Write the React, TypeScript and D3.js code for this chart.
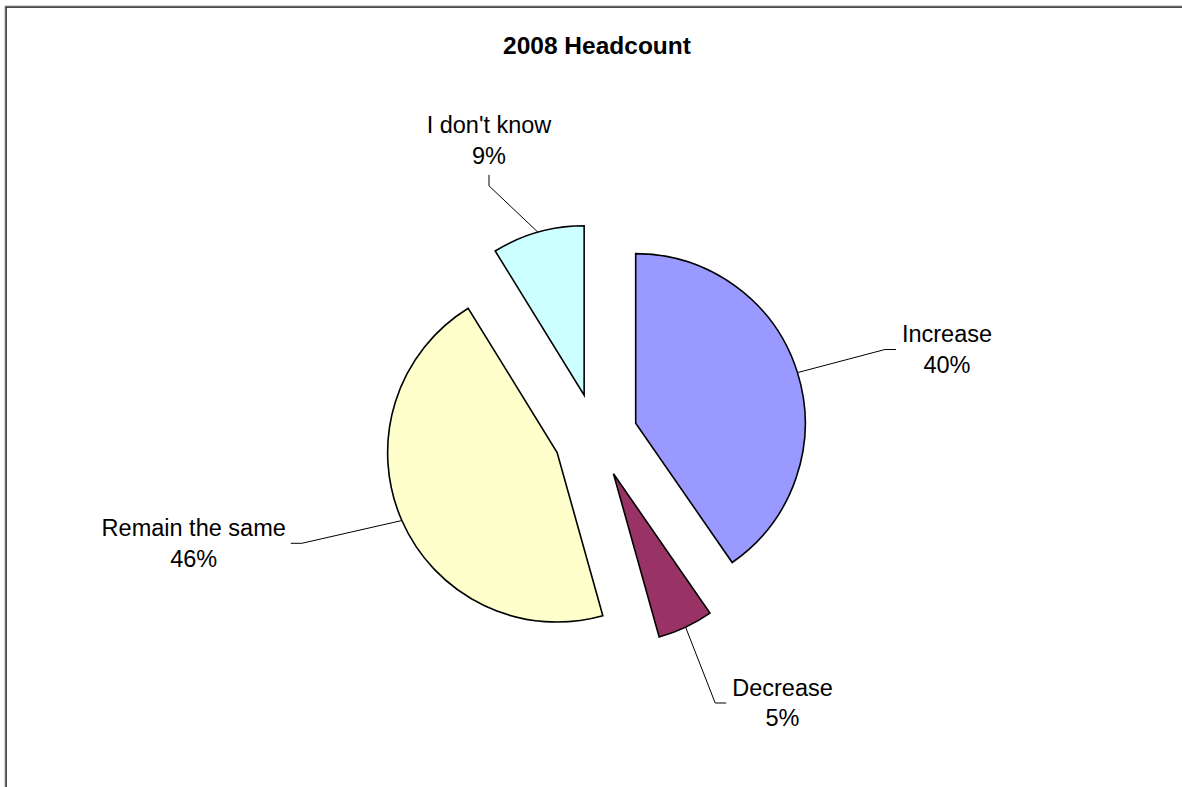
import React, { useEffect, useRef } from "react";
import * as d3 from "d3";

// ---- data ----
const categories: string[] = ["Increase", "Decrease", "Remain the same", "I don't know"];
const values: number[] = [40.4, 5.3, 45.6, 8.8];
const colors: string[] = ["#9999FF", "#993366", "#FFFFCC", "#CCFFFF"];
const title = "2008 Headcount";

// ---- layout ----
const W = 1182;
const H = 787;
const CX = 595.6;
const CY = 435.7;
const R = 169.5;
const EXPLODE = 42;
const labelOffsets: [number, number][] = [
  [351.4, -86.2],
  [186.9, 267.3],
  [-401.9, 107.6],
  [-106.6, -295.2],
];
const labelSides: string[] = ["right", "right", "left", "top"];
const FONT = "'Liberation Sans', Arial, Helvetica, sans-serif";
const LABEL_SIZE = 23.5;

export default function App() {
  const ref = useRef<SVGSVGElement | null>(null);

  useEffect(() => {
    const svg = d3.select(ref.current);
    svg.selectAll("*").remove();

    svg.append("rect").attr("x", 0).attr("y", 0).attr("width", W).attr("height", H).attr("fill", "#fff");

    // chart area border (extends beyond the visible window on right/bottom)
    svg.append("rect")
      .attr("x", 6).attr("y", 7).attr("width", W + 40).attr("height", H + 40)
      .attr("fill", "none").attr("stroke", "#111").attr("stroke-width", 1.5);
    svg.append("rect")
      .attr("x", 5).attr("y", 6).attr("width", W + 40).attr("height", H + 40)
      .attr("fill", "none").attr("stroke", "#999").attr("stroke-width", 0.8);

    svg.append("text")
      .attr("x", 597).attr("y", 54.3)
      .attr("text-anchor", "middle")
      .attr("font-family", FONT).attr("font-weight", "bold").attr("font-size", 24.5)
      .attr("fill", "#000")
      .text(title);

    const total = d3.sum(values);
    const pie = d3.pie<number>().sort(null).value((d) => d).startAngle(0).endAngle(2 * Math.PI);
    const arcs = pie(values);
    const arc = d3.arc<d3.PieArcDatum<number>>().innerRadius(0).outerRadius(R);

    const g = svg.append("g").attr("transform", `translate(${CX},${CY})`);

    arcs.forEach((a, i) => {
      const mid = (a.startAngle + a.endAngle) / 2;
      const ox = EXPLODE * Math.sin(mid);
      const oy = -EXPLODE * Math.cos(mid);
      g.append("path")
        .attr("d", arc(a) as string)
        .attr("transform", `translate(${ox},${oy})`)
        .attr("fill", colors[i])
        .attr("stroke", "#000")
        .attr("stroke-width", 1.6)
        .attr("stroke-linejoin", "miter");
    });

    // labels + leader lines
    arcs.forEach((a, i) => {
      const mid = (a.startAngle + a.endAngle) / 2;
      const ax = CX + (EXPLODE + R) * Math.sin(mid);
      const ay = CY - (EXPLODE + R) * Math.cos(mid);
      const lx = CX + labelOffsets[i][0];
      const ly = CY + labelOffsets[i][1];
      const b1 = ly - 7.35;
      const b2 = ly + 23.35;
      const pct = Math.round((values[i] / total) * 100) + "%";

      const tg = svg.append("g");
      const t1 = tg.append("text")
        .attr("x", lx).attr("y", b1).attr("text-anchor", "middle")
        .attr("font-family", FONT).attr("font-size", LABEL_SIZE).attr("fill", "#000")
        .text(categories[i]);
      const t2 = tg.append("text")
        .attr("x", lx).attr("y", b2).attr("text-anchor", "middle")
        .attr("font-family", FONT).attr("font-size", LABEL_SIZE).attr("fill", "#000")
        .text(pct);
      const w = Math.max(
        (t1.node() as SVGTextElement).getComputedTextLength(),
        (t2.node() as SVGTextElement).getComputedTextLength()
      );

      let pts: [number, number][] = [];
      if (labelSides[i] === "right") {
        const e = lx - w / 2 - 6;
        pts = [[ax, ay], [e - 11, ly], [e, ly]];
      } else if (labelSides[i] === "left") {
        const e = lx + w / 2 + 5;
        pts = [[ax, ay], [e + 11, ly], [e, ly]];
      } else {
        const e = b2 + 11;
        pts = [[ax, ay], [lx, e + 11], [lx, e]];
      }
      svg.append("path")
        .attr("d", d3.line()(pts) as string)
        .attr("fill", "none")
        .attr("stroke", "#000")
        .attr("stroke-width", 1);
    });
  }, []);

  return (
    <svg
      ref={ref}
      width={W}
      height={H}
      style={{ position: "absolute", left: 0, top: 0, display: "block" }}
    />
  );
}
